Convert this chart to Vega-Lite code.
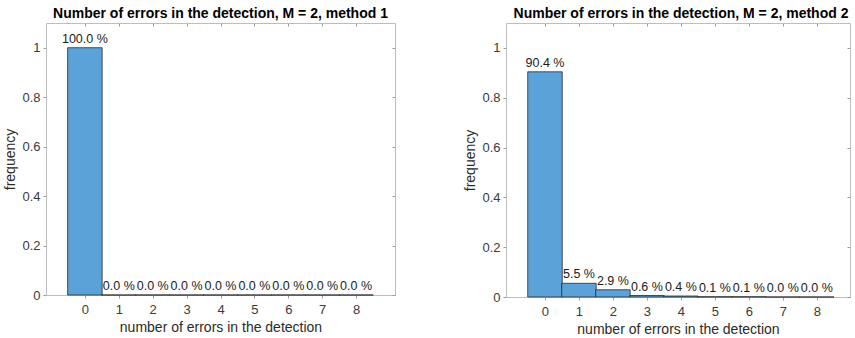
{
  "$schema": "https://vega.github.io/schema/vega-lite/v6.json",
  "background": "white",
  "padding": {"left": 3, "top": 6, "right": 0, "bottom": 0},
  "spacing": 67,
  "config": {
    "font": "Liberation Sans",
    "view": {"stroke": null},
    "title": {"fontSize": 14, "fontWeight": "bold", "color": "#000000", "offset": 2, "anchor": "middle", "font": "Liberation Sans"},
    "axis": {
      "grid": false,
      "domainColor": "#bdbdbd",
      "tickColor": "#9a9a9a",
      "tickSize": 3,
      "labelFontSize": 13,
      "labelColor": "#3a3a3a",
      "titleFontSize": 14,
      "titleFontWeight": "normal",
      "titleColor": "#2a2a2a",
      "labelFont": "Liberation Sans",
      "titleFont": "Liberation Sans"
    }
  },
  "datasets": {
    "m1": [
      {"errors": 0, "frequency": 1.0, "label": "100.0 %"},
      {"errors": 1, "frequency": 0.0, "label": "0.0 %"},
      {"errors": 2, "frequency": 0.0, "label": "0.0 %"},
      {"errors": 3, "frequency": 0.0, "label": "0.0 %"},
      {"errors": 4, "frequency": 0.0, "label": "0.0 %"},
      {"errors": 5, "frequency": 0.0, "label": "0.0 %"},
      {"errors": 6, "frequency": 0.0, "label": "0.0 %"},
      {"errors": 7, "frequency": 0.0, "label": "0.0 %"},
      {"errors": 8, "frequency": 0.0, "label": "0.0 %"}
    ],
    "m2": [
      {"errors": 0, "frequency": 0.904, "label": "90.4 %"},
      {"errors": 1, "frequency": 0.055, "label": "5.5 %"},
      {"errors": 2, "frequency": 0.029, "label": "2.9 %"},
      {"errors": 3, "frequency": 0.006, "label": "0.6 %"},
      {"errors": 4, "frequency": 0.004, "label": "0.4 %"},
      {"errors": 5, "frequency": 0.001, "label": "0.1 %"},
      {"errors": 6, "frequency": 0.001, "label": "0.1 %"},
      {"errors": 7, "frequency": 0.0, "label": "0.0 %"},
      {"errors": 8, "frequency": 0.0, "label": "0.0 %"}
    ]
  },
  "hconcat": [
    {
      "title": "Number of errors in the detection, M = 2, method 1",
      "width": 349,
      "height": 272,
      "data": {"name": "m1"},
      "resolve": {"axis": {"x": "independent", "y": "independent"}},
      "layer": [
        {
          "mark": {"type": "bar", "width": 34.5, "color": "#5BA2D8", "stroke": "#2a2a2a", "strokeWidth": 0.8},
          "encoding": {
            "x": {"field": "errors", "type": "quantitative", "scale": {"domain": [-1, 9], "nice": false, "zero": false},
                  "axis": {"values": [0,1,2,3,4,5,6,7,8], "format": "d", "labelPadding": 5, "titlePadding": 4, "title": "number of errors in the detection"}},
            "y": {"field": "frequency", "type": "quantitative", "scale": {"domain": [0, 1.1], "nice": false},
                  "axis": {"values": [0, 0.2, 0.4, 0.6, 0.8, 1], "format": "~g", "labelPadding": 3, "titlePadding": 4, "title": "frequency"}}
          }
        },
        {
          "mark": {"type": "text", "baseline": "alphabetic", "dy": -5, "fontSize": 12.5, "color": "#1a1a1a"},
          "encoding": {
            "x": {"field": "errors", "type": "quantitative", "axis": {"orient": "top", "values": [0,1,2,3,4,5,6,7,8], "labels": false, "title": null, "tickSize": -3}},
            "y": {"field": "frequency", "type": "quantitative", "axis": {"orient": "right", "values": [0, 0.2, 0.4, 0.6, 0.8, 1], "labels": false, "title": null, "tickSize": -3}},
            "text": {"field": "label"}
          }
        }
      ]
    },
    {
      "title": {"text": "Number of errors in the detection, M = 2, method 2", "dx": 3},
      "width": 344,
      "height": 274,
      "data": {"name": "m2"},
      "resolve": {"axis": {"x": "independent", "y": "independent"}},
      "layer": [
        {
          "mark": {"type": "bar", "width": 34.5, "color": "#5BA2D8", "stroke": "#2a2a2a", "strokeWidth": 0.8},
          "encoding": {
            "x": {"field": "errors", "type": "quantitative", "scale": {"domain": [-1, 8.83], "nice": false, "zero": false},
                  "axis": {"values": [0,1,2,3,4,5,6,7,8], "format": "d", "labelPadding": 5, "titlePadding": 4, "title": "number of errors in the detection"}},
            "y": {"field": "frequency", "type": "quantitative", "scale": {"domain": [0, 1.1], "nice": false},
                  "axis": {"values": [0, 0.2, 0.4, 0.6, 0.8, 1], "format": "~g", "labelPadding": 3, "titlePadding": 4, "title": "frequency"}}
          }
        },
        {
          "mark": {"type": "text", "baseline": "alphabetic", "dy": -5, "fontSize": 12.5, "color": "#1a1a1a"},
          "encoding": {
            "x": {"field": "errors", "type": "quantitative", "axis": {"orient": "top", "values": [0,1,2,3,4,5,6,7,8], "labels": false, "title": null, "tickSize": -3}},
            "y": {"field": "frequency", "type": "quantitative", "axis": {"orient": "right", "values": [0, 0.2, 0.4, 0.6, 0.8, 1], "labels": false, "title": null, "tickSize": -3}},
            "text": {"field": "label"}
          }
        }
      ]
    }
  ]
}
